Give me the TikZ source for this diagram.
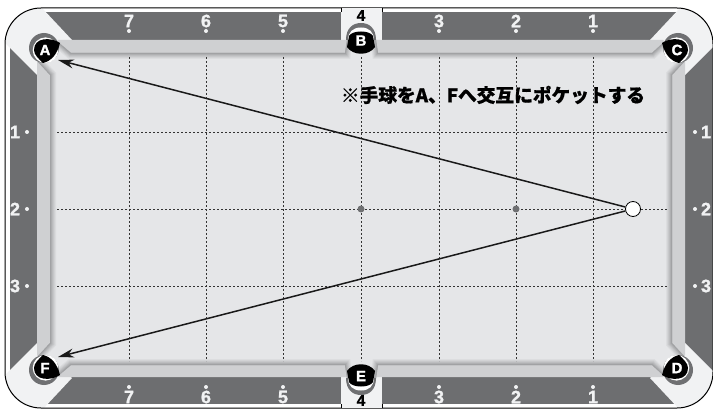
\documentclass[tikz,border=0pt]{standalone}
\usepackage{fontspec}
\setmainfont[BoldFeatures={FakeBold=1.2}]{Liberation Sans}
\newfontfamily\cjkfont[BoldFeatures={FakeBold=0.8}]{Noto Sans CJK JP}
\usetikzlibrary{arrows.meta,positioning}
\definecolor{railgray}{HTML}{6D6E70}
\definecolor{bandwhite}{HTML}{F1F2F3}
\definecolor{cushiongray}{HTML}{CFD0D2}
\definecolor{feltgray}{HTML}{E5E6E8}
\definecolor{shadegray}{HTML}{9A9B9D}
\definecolor{ringgray}{HTML}{6F7072}

% playing area, with the jaws of the six pockets
\def\feltpath{(50,75) -- (38,62) -- (58,42) -- (71,53) -- (345,53) -- (347,40) -- (376,40) -- (378,53)
  -- (652,53) -- (664,42) -- (684,62) -- (672,75) -- (672,343) -- (684,356) -- (664,376) -- (652,365)
  -- (378,365) -- (376,378) -- (347,378) -- (345,365) -- (71,365) -- (58,376) -- (38,356) -- (50,343) -- cycle}

\begin{document}
\begin{tikzpicture}[x=1pt,y=-1pt,>={Stealth[length=16pt,width=9pt]}]
    \tikzstyle{number}=[font=\fontsize{18}{18}\selectfont\bfseries,text=bandwhite,inner sep=0pt]
    \tikzstyle{sidenumber}=[number,font=\fontsize{15.5}{15.5}\selectfont\bfseries,text=black]
    \tikzstyle{pocketname}=[font=\fontsize{15}{15}\selectfont\bfseries,text=white,inner sep=0pt]
    \tikzstyle{grid}=[black!80,line width=0.7pt,dash pattern=on 2pt off 2pt]
    \tikzstyle{shot}=[black!90,line width=1.5pt]
    \tikzstyle{spot}=[circle,fill=ringgray,minimum size=7pt,inner sep=0pt]
    \tikzstyle{cueball}=[circle,draw=black,fill=white,line width=0.8pt,minimum size=15pt,inner sep=0pt]

    \useasboundingbox (0,0) rectangle (713,409);

    % table body
    \fill[white] (5,8) rectangle (713,408);
    \begin{scope}
      \clip[rounded corners=36pt] (5,8) rectangle (713,408);
      \fill[railgray] (10,12) rectangle (713,404);
      \foreach \sx/\sy in {1/1,-1/1,1/-1,-1/-1} {
        \begin{scope}[shift={(361,209)},xscale=\sx,yscale=\sy]
          \fill[bandwhite] (-319,-201) -- (-289,-169) -- (-324,-134) -- (-356,-166) -- (-356,-201) -- cycle;
        \end{scope}
      }
    \end{scope}
    \draw[black,line width=1pt,rounded corners=36pt] (5,8) rectangle (713,408);
    \fill[bandwhite] (341,8.5) rectangle (382,40);
    \fill[bandwhite] (341,377) rectangle (382,407.5);
    \draw[black,line width=1pt] (341,8) -- (341,12) (382,8) -- (382,12) (341,404) -- (341,408) (382,404) -- (382,408);

    % cushions and felt
    \fill[cushiongray] (58,40) -- (663,40) -- (685,62) -- (685,355) -- (663,377) -- (58,377) -- (37,355) -- (37,62) -- cycle;
    \fill[feltgray] \feltpath;
    \begin{scope}
      \clip \feltpath;
      \foreach \w/\c in {12/12,10/25,8/40,6/55,4/72,2/90} {
        \draw[shadegray!\c!feltgray,line width=\w pt,line join=miter] \feltpath;
      }
    \end{scope}

    % grid
    \foreach \gx in {129,206,283,361,439,516,593} {
      \draw[grid] (\gx,57) -- (\gx,361);
    }
    \foreach \gy in {132,209,286} {
      \draw[grid] (57,\gy) -- (668,\gy);
    }

    % corner pockets
    \foreach \sx/\sy in {1/1,-1/1,1/-1,-1/-1} {
      \begin{scope}[shift={(361,209)},xscale=\sx,yscale=\sy,shift={(-315,-158)}]
        \fill[ringgray] (-2,-3) circle (15);
        \fill[white] (-0.5,-0.8) circle (12.8);
        \fill[black] (14,-8) .. controls (5,-14) and (-12,-14) .. (-12,-1)
          .. controls (-12,4) and (-7,8) .. (-3,12) .. controls (5,10) and (11,4) .. (14,-8);
      \end{scope}
    }
    % side pockets
    \foreach \sy in {1,-1} {
      \begin{scope}[shift={(361,209)},yscale=\sy,shift={(0,-209)}]
        \fill[ringgray] (-15,40) .. controls (-15,28) and (-8,23) .. (0,23) .. controls (8,23) and (15,28) .. (15,40) -- cycle;
        \fill[white] (-13,40) .. controls (-13,32) and (-8,27.5) .. (0,27.5) .. controls (8,27.5) and (13,32) .. (13,40) -- cycle;
        \fill[black] (-14,47) -- (-12,36) .. controls (-9,30) and (9,30) .. (12,36) -- (14,47)
          .. controls (8,56) and (-8,56) .. (-14,47) -- cycle;
      \end{scope}
    }

    \node[pocketname](pocket_a) at (45,50){A};
    \node[pocketname](pocket_b) at (361,40.5){B};
    \node[pocketname](pocket_c) at (677,50){C};
    \node[pocketname](pocket_d) at (677,368){D};
    \node[pocketname](pocket_e) at (361,376){E};
    \node[pocketname](pocket_f) at (45,368){F};

    % diamonds on the rails
    \foreach \gx/\num in {129/7,206/6,283/5,439/3,516/2,593/1} {
      \node[number](top_\num) at (\gx,21){\num};
      \fill[bandwhite] (\gx,31) circle (2);
      \node[number](bottom_\num) at (\gx,397){\num};
      \fill[bandwhite] (\gx,387) circle (2);
    }
    \node[sidenumber](top_4) at (361,15.5){4};
    \node[sidenumber](bottom_4) at (361,400.5){4};
    \foreach \gy/\num in {132/1,209/2,286/3} {
      \node[number](left_\num) at (15,\gy){\num};
      \fill[bandwhite] (27,\gy) circle (2);
      \node[number](right_\num) at (706,\gy){\num};
      \fill[bandwhite] (695,\gy) circle (2);
    }

    \node[spot](spot_center) at (361,209){};
    \node[spot](spot_foot) at (516,209){};

    \coordinate (tip_a) at (58,60);
    \coordinate (tip_f) at (58,357);
    \node[cueball](cue) at (633,209){};
    \draw[shot,->] (cue) -- (tip_a);
    \draw[shot,->] (cue) -- (tip_f);

    \node[font=\fontsize{18.7}{18.7}\selectfont\cjkfont\bfseries,inner sep=0pt](caption) at (493,95){※手球をA、Fへ交互にポケットする};
  \end{tikzpicture}
\end{document}
